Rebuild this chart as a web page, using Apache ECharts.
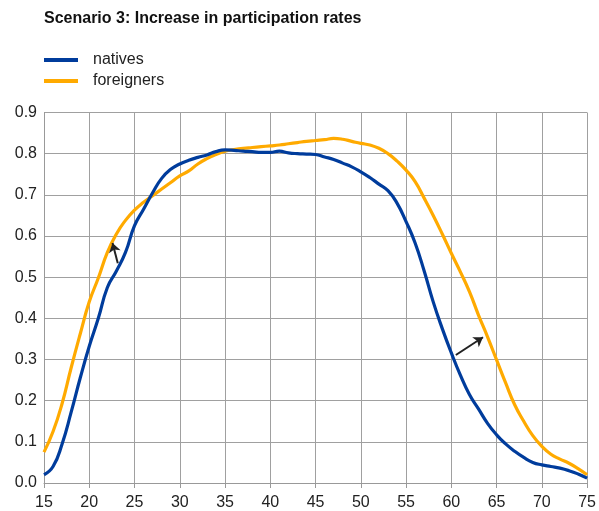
<!DOCTYPE html>
<html>
<head>
<meta charset="utf-8">
<script src="https://cdn.jsdelivr.net/npm/echarts@6/dist/echarts.min.js"></script>
<style>
  html, body { margin: 0; padding: 0; background: #fff; }
  #chart { width: 599px; height: 511px; }
</style>
</head>
<body>
<div id="chart"></div>
<script>
// ages 15..75
const ages = []
for (let a = 15; a <= 75; a++) ages.push(a)

const natives = [
  0.02, 0.04, 0.095, 0.172, 0.255, 0.332, 0.40, 0.475, 0.515, 0.56,
  0.625, 0.665, 0.705, 0.74, 0.762, 0.775, 0.784, 0.791, 0.797, 0.805,
  0.809, 0.808, 0.806, 0.805, 0.803, 0.803, 0.806, 0.802, 0.800, 0.799,
  0.798, 0.792, 0.786, 0.777, 0.768, 0.756, 0.742, 0.726, 0.71, 0.68,
  0.635, 0.583, 0.515, 0.44, 0.375, 0.316, 0.262, 0.215, 0.18, 0.145,
  0.117, 0.095, 0.077, 0.062, 0.05, 0.044, 0.04, 0.036, 0.03, 0.022,
  0.012
]

const foreigners = [
  0.075, 0.125, 0.193, 0.28, 0.362, 0.44, 0.498, 0.56, 0.605, 0.638,
  0.663, 0.682, 0.698, 0.714, 0.73, 0.746, 0.758, 0.775, 0.788, 0.798,
  0.806, 0.81, 0.813, 0.815, 0.817, 0.819, 0.821, 0.824, 0.827, 0.83,
  0.832, 0.834, 0.837, 0.835, 0.83, 0.825, 0.821, 0.813, 0.8, 0.782,
  0.76, 0.732, 0.692, 0.65, 0.605, 0.558, 0.513, 0.465, 0.408, 0.355,
  0.299, 0.243, 0.19, 0.15, 0.115, 0.089, 0.07, 0.058, 0.048, 0.035,
  0.02
]

// small arrows: [from, to] in data coords
const arrows = [
  [[23.15, 0.534], [22.57, 0.583]],
  [[60.5, 0.311], [63.5, 0.354]]
]

const blue = '#003c9c'
const orange = '#ffaa00'
const font = 'Liberation Sans, Arial, sans-serif'

const pairs = (ys) => ages.map((a, i) => [a, ys[i]])

const chart = echarts.init(document.getElementById('chart'))
chart.setOption({
  animation: false,
  backgroundColor: '#fff',
  title: {
    text: 'Scenario 3: Increase in participation rates',
    left: 39,
    top: 6,
    textStyle: { fontFamily: font, fontSize: 16, fontWeight: 'bold', color: '#111' }
  },
  legend: {
    orient: 'vertical',
    left: 39,
    top: 47,
    itemWidth: 34,
    itemHeight: 4,
    itemGap: 5,
    icon: 'rect',
    textStyle: { fontFamily: font, fontSize: 16, color: '#222', lineHeight: 14, padding: [0, 0, 0, 10] },
    data: ['natives', 'foreigners']
  },
  grid: { left: 44, right: 3, top: 112.5, bottom: 28, containLabel: false },
  xAxis: {
    type: 'value',
    min: 15,
    max: 75,
    interval: 5,
    axisLine: { show: true, lineStyle: { color: '#999', width: 1 } },
    axisTick: { show: true, length: 5, lineStyle: { color: '#999' } },
    axisLabel: { fontFamily: font, fontSize: 16, color: '#222', margin: 12 },
    splitLine: { show: true, lineStyle: { color: '#a0a0a0', width: 1 } }
  },
  yAxis: {
    type: 'value',
    min: 0,
    max: 0.9,
    interval: 0.1,
    axisLine: { show: true, lineStyle: { color: '#999', width: 1 } },
    axisTick: { show: false },
    axisLabel: {
      fontFamily: font, fontSize: 16, color: '#222', margin: 7,
      padding: [9, 0, 0, 0],
      formatter: (v) => v.toFixed(1)
    },
    splitLine: { show: true, lineStyle: { color: '#a0a0a0', width: 1 } }
  },
  series: [
    {
      name: 'natives',
      type: 'line',
      smooth: true,
      showSymbol: false,
      color: blue,
      lineStyle: { width: 3.2, color: blue },
      data: pairs(natives),
      z: 3
    },
    {
      name: 'foreigners',
      type: 'line',
      smooth: true,
      showSymbol: false,
      color: orange,
      lineStyle: { width: 3.2, color: orange },
      data: pairs(foreigners),
      z: 2,
      markLine: {
        silent: true,
        symbol: ['none', 'arrow'],
        symbolSize: 9,
        label: { show: false },
        lineStyle: { color: '#222', width: 2, type: 'solid' },
        data: arrows.map(([a, b]) => [{ coord: a }, { coord: b }])
      }
    }
  ]
})
</script>
</body>
</html>
